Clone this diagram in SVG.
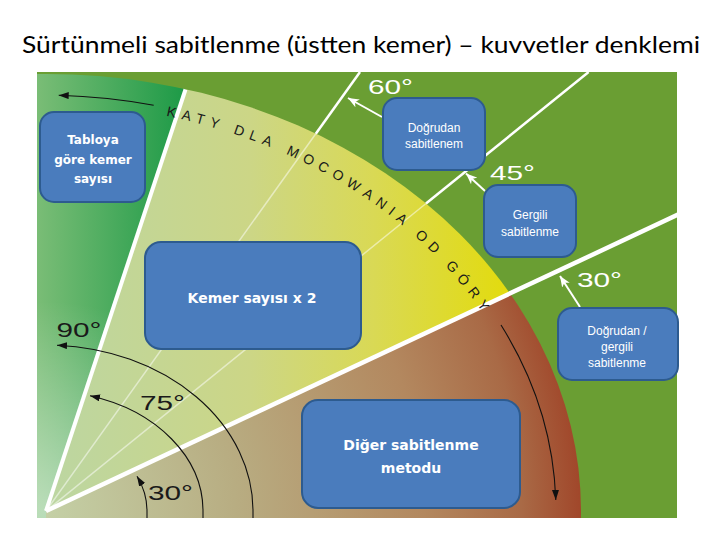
<svg xmlns="http://www.w3.org/2000/svg" width="720" height="540" viewBox="0 0 720 540">
<defs>
<style>
.title{font-family:"Lato","Open Sans","Liberation Sans",sans-serif;font-size:23px;fill:#000}
.box{fill:#4a7cbd;stroke:#2d5b8f;stroke-width:2}
.bt{font-family:"DejaVu Sans",sans-serif;font-weight:bold;fill:#fff;text-anchor:middle}
.rt{font-family:"Liberation Sans",Arial,sans-serif;font-size:12px;fill:#fff;text-anchor:middle}
.ang{font-family:"Liberation Sans",Arial,sans-serif;font-size:21px}
.wang{fill:#fff}
.bang{fill:#1a1a1a;font-size:20px}
.wl{stroke:#fff;fill:none}
.blk{stroke:#111;stroke-width:1.1;fill:none}
.warr{stroke:#fff;stroke-width:2;fill:none;marker-end:url(#wh)}
.arctext{font-family:"Liberation Sans",Arial,sans-serif;font-size:14px;letter-spacing:6px;fill:#1a1a1a}
</style>
<clipPath id="frame"><rect x="37" y="72" width="640" height="446"/></clipPath>
<clipPath id="fan"><ellipse cx="46" cy="511" rx="535" ry="437"/></clipPath>
<linearGradient id="gLeft" gradientUnits="userSpaceOnUse" x1="37" y1="0" x2="185" y2="0">
<stop offset="0" stop-color="#7abd76"/><stop offset="1" stop-color="#1d9a47"/>
</linearGradient>
<radialGradient id="gLeftLight" gradientUnits="userSpaceOnUse" cx="46" cy="511" r="210">
<stop offset="0" stop-color="#ffffff" stop-opacity="0.5"/><stop offset="1" stop-color="#ffffff" stop-opacity="0"/>
</radialGradient>
<linearGradient id="gMid" gradientUnits="userSpaceOnUse" x1="46" y1="0" x2="500" y2="0">
<stop offset="0" stop-color="#bcd6a2"/><stop offset="0.45" stop-color="#ccd686"/><stop offset="0.72" stop-color="#d9d955"/><stop offset="1" stop-color="#e2db12"/>
</linearGradient>
<radialGradient id="gBot" gradientUnits="userSpaceOnUse" cx="46" cy="511" r="540">
<stop offset="0" stop-color="#c4d0a6"/><stop offset="0.35" stop-color="#b8ad82"/><stop offset="0.7" stop-color="#b3885f"/><stop offset="0.88" stop-color="#a96a46"/><stop offset="1" stop-color="#a04428"/>
</radialGradient>
<marker id="bh" markerUnits="userSpaceOnUse" markerWidth="10" markerHeight="8" refX="10" refY="3.5" orient="auto-start-reverse">
<path d="M0,0 L10,3.5 L0,7 Z" fill="#111"/>
</marker>
<marker id="wh" markerUnits="userSpaceOnUse" markerWidth="12" markerHeight="10" refX="11" refY="4.5" orient="auto">
<path d="M0,0 L11,4.5 L0,9 L3,4.5 Z" fill="#fff"/>
</marker>
<path id="arcPath" d="M166.1,115.9 A500 407 0 0 1 515.8,371.8"/>
</defs>

<rect width="720" height="540" fill="#ffffff"/>
<text class="title" x="22" y="53" textLength="678" lengthAdjust="spacingAndGlyphs">Sürtünmeli sabitlenme (üstten kemer) – kuvvetler denklemi</text>

<g id="background" clip-path="url(#frame)">
<rect x="37" y="72" width="640" height="446" fill="#6a9e33"/>
<g clip-path="url(#fan)">
<polygon points="46,511 191.3,72 30,72 30,530 46,530" fill="url(#gLeft)"/>
<polygon points="46,511 191.3,72 30,72 30,530 46,530" fill="url(#gLeftLight)"/>
<polygon points="46,511 191.3,72 700,72 700,204.2" fill="url(#gMid)"/>
<polygon points="46,511 700,204.2 700,530 46,530" fill="url(#gBot)"/>
</g>
<g id="rays">
<line class="wl" x1="46" y1="511" x2="315.8" y2="133.7" stroke-width="1.5" stroke-opacity="0.5"/>
<line class="wl" x1="315.8" y1="133.7" x2="360" y2="72" stroke-width="2.5"/>
<line class="wl" x1="46" y1="511" x2="426" y2="203.5" stroke-width="1.5" stroke-opacity="0.5"/>
<line class="wl" x1="426" y1="203.5" x2="588.6" y2="72" stroke-width="2.5"/>
<line class="wl" x1="46" y1="511" x2="185.5" y2="89.5" stroke-width="4"/>
<line class="wl" x1="46" y1="511" x2="690" y2="209" stroke-width="4.5"/>
</g>
</g>

<g id="arc-label" class="arctext">
<text><textPath href="#arcPath" startOffset="0">KATY DLA </textPath></text>
<text><textPath href="#arcPath" startOffset="125.6">MOCOW</textPath></text>
<text><textPath href="#arcPath" startOffset="212.4">ANIA </textPath></text>
<text><textPath href="#arcPath" startOffset="278.9">OD GÓRY</textPath></text>
</g>

<g id="angle-labels" class="ang">
<text class="wang" x="368" y="94" textLength="45" lengthAdjust="spacingAndGlyphs">60°</text>
<text class="wang" x="490" y="180" textLength="45" lengthAdjust="spacingAndGlyphs">45°</text>
<text class="wang" x="577" y="287" textLength="45" lengthAdjust="spacingAndGlyphs">30°</text>
<text class="bang" x="56.5" y="337" textLength="45" lengthAdjust="spacingAndGlyphs">90°</text>
<text class="bang" x="140" y="410" textLength="45" lengthAdjust="spacingAndGlyphs">75°</text>
<text class="bang" x="148" y="499.5" textLength="45" lengthAdjust="spacingAndGlyphs">30°</text>
</g>

<g id="connectors">
<path class="blk" d="M153.7,105.3 A510 415 0 0 0 58.7,95.3" marker-end="url(#bh)"/>
<path class="blk" d="M501,325 A510 412 0 0 1 555.8,500" marker-end="url(#bh)"/>
<path class="blk" d="M57,345.2 A207 166 0 0 1 253,511 L253,518" marker-start="url(#bh)"/>
<path class="blk" d="M90,395.8 A157 120 0 0 1 203,511 L203,518" marker-start="url(#bh)"/>
<path class="blk" d="M137,476.3 A101 80 0 0 1 147,511 L147,518" marker-start="url(#bh)"/>
<line class="warr" x1="382" y1="117" x2="348" y2="98"/>
<line class="warr" x1="485" y1="191" x2="466" y2="173.5"/>
<line class="warr" x1="580" y1="307" x2="560" y2="276"/>
</g>

<g id="node-tabloya">
<rect class="box" x="40" y="112" width="105" height="90" rx="14"/>
<text class="bt" font-size="12" x="93" y="144">Tabloya</text>
<text class="bt" font-size="12" x="93" y="163.5">göre kemer</text>
<text class="bt" font-size="12" x="93" y="183">sayısı</text>
</g>
<g id="node-kemer-x2">
<rect class="box" x="145" y="242" width="216" height="107" rx="16"/>
<text class="bt" font-size="14" x="252" y="303">Kemer sayısı x 2</text>
</g>
<g id="node-diger">
<rect class="box" x="302" y="400" width="218" height="108" rx="16"/>
<text class="bt" font-size="14" x="411" y="450">Diğer sabitlenme</text>
<text class="bt" font-size="14" x="411" y="473">metodu</text>
</g>
<g id="node-dogrudan">
<rect class="box" x="383" y="98" width="102" height="72" rx="14"/>
<text class="rt" x="434" y="131.7">Doğrudan</text>
<text class="rt" x="434" y="148.3">sabitlenem</text>
</g>
<g id="node-gergili">
<rect class="box" x="484" y="185" width="92" height="72" rx="14"/>
<text class="rt" x="530" y="219">Gergili</text>
<text class="rt" x="530" y="235.7">sabitlenme</text>
</g>
<g id="node-dogrudan-gergili">
<rect class="box" x="558" y="308" width="120" height="72" rx="14"/>
<text class="rt" x="617" y="335">Doğrudan /</text>
<text class="rt" x="617" y="351">gergili</text>
<text class="rt" x="617" y="367.3">sabitlenme</text>
</g>
</svg>
